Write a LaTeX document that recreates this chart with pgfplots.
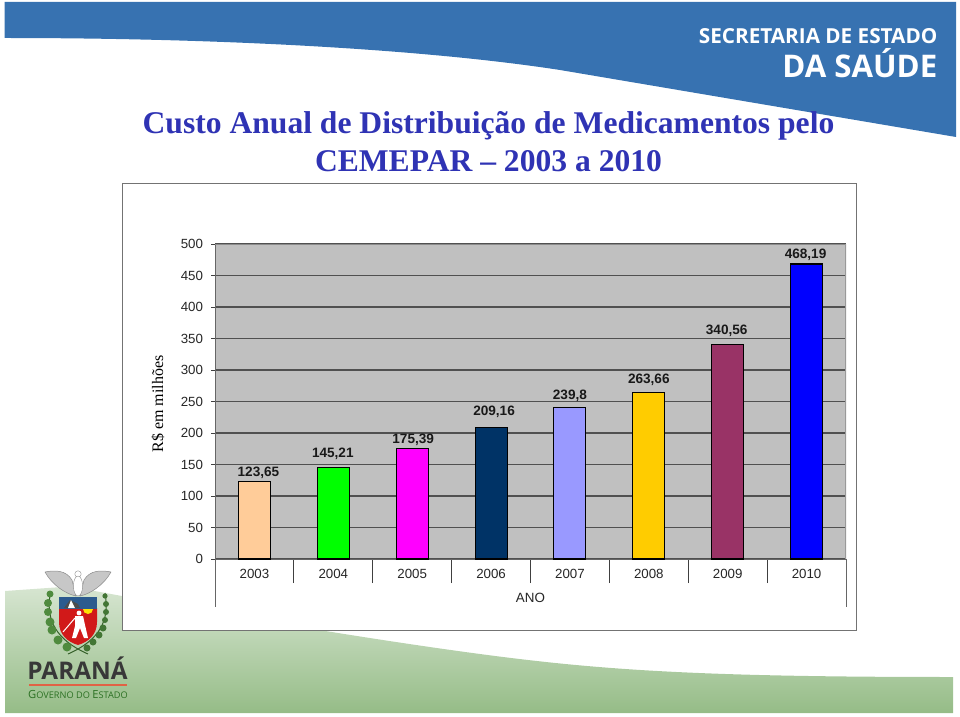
\documentclass[border=0pt]{standalone}
\usepackage{pgfplots}
\pgfplotsset{compat=1.18}
\usepackage{fontspec}
\setmainfont{Liberation Sans}
\newfontfamily\serifbold{Liberation Serif}
\newfontfamily\headfont{Open Sans}
\definecolor{bandblue}{HTML}{3772B1}
\definecolor{titleblue}{HTML}{2F33B4}
\definecolor{gridc}{HTML}{505050}
\definecolor{plotbg}{HTML}{C0C0C0}
\definecolor{leafg}{HTML}{4F8B3E}
\definecolor{footg}{HTML}{6CA258}
\definecolor{cA}{HTML}{FFCC99}
\definecolor{cB}{HTML}{00FF00}
\definecolor{cC}{HTML}{FF00FF}
\definecolor{cD}{HTML}{003366}
\definecolor{cE}{HTML}{9999FF}
\definecolor{cF}{HTML}{FFCC00}
\definecolor{cG}{HTML}{993366}
\definecolor{cH}{HTML}{0000FF}
\newcommand{\yearbar}[6]{%
  \addplot[ybar,bar width=32pt,bar shift=0pt,fill=#1,draw=black,line width=1.1pt,
    point meta=explicit symbolic,nodes near coords,
    nodes near coords align={center},
    every node near coord/.append style={anchor=center,xshift=#5pt,yshift=#6pt,
      font=\fontsize{13.6}{14}\selectfont\bfseries,text=black!90}]
    coordinates {(#2,#3) [#4]};}
\begin{document}
\begin{tikzpicture}[x=1pt,y=1pt]
\path[use as bounding box] (0,0) rectangle (960,716);
\begin{scope}[x=1pt,y=-1pt,yshift=716pt]
  % header band
  \fill[bandblue] (4.5,2) -- (956,2) -- (956,137) -- (560,70)
     .. controls (430,50) and (230,38) .. (4.5,38) -- cycle;
  % footer band
  \begin{scope}
    \clip (5,574) .. controls (60,585) and (300,630) .. (480,654)
       .. controls (600,670) and (700,677) .. (953,677) -- (953,713) -- (5,713) -- cycle;
    \shade[rotate around={4:(480,650)},top color=white,bottom color=footg] (-200,558) rectangle (1200,746);
  \end{scope}
  % chart frame
  \fill[white,draw=black!55,line width=1.2pt] (122.5,183.5) rectangle (856.5,630.5);
  % title
  \node[anchor=base,inner sep=0pt,font=\serifbold\bfseries\fontsize{31.6}{32}\selectfont,text=titleblue] at (488.5,134) {Custo Anual de Distribuição de Medicamentos pelo};
  \node[anchor=base,inner sep=0pt,font=\serifbold\bfseries\fontsize{31.6}{32}\selectfont,text=titleblue] at (488.5,172) {CEMEPAR – 2003 a 2010};
  % header text
  \node[anchor=base east,inner sep=0pt,font=\headfont\bfseries\fontsize{20.7}{21}\selectfont,text=white] at (937.5,44) {SECRETARIA DE ESTADO};
  \node[anchor=base east,inner sep=0pt,font=\headfont\bfseries\fontsize{31.2}{32}\selectfont,text=white] at (937.5,78) {DA SAÚDE};
  % emblem: laurel
  \draw[leafg!70!black,line width=1pt] (50,595) .. controls (46,620) and (56,640) .. (88,654);
  \draw[leafg!70!black,line width=1pt] (105,593) .. controls (110,620) and (100,640) .. (68,654);
  \foreach \p/\r in {(50,594)/3.5,(48,603)/4,(48,612)/4,(50,622)/4.5,(52,630)/4.5,(58,640)/4.5,(67,647)/4.5}
    \fill[leafg] \p circle (\r);
  \foreach \p/\r in {(105,596)/2.6,(106,604)/3,(106,612)/3,(105,620)/3,(103,628)/3.5,(99,635)/3.5,(93,642)/3.5,(87,648)/3.5}
    \fill[leafg!85!black] \p circle (\r);
  % emblem: shield
  \fill[red!80!black!90!white] (59,608) -- (97,608) -- (97,622) .. controls (97,635) and (88,642) .. (78,645)
     .. controls (68,642) and (59,635) .. (59,622) -- cycle;
  \fill[bandblue!80!black] (59,597) rectangle (97,609);
  \fill[black!70] (64,608) -- (70,600) -- (78,604) -- (80,608) -- cycle;
  \fill[white] (68,608) -- (71,600) -- (75,608) -- cycle;
  \fill[yellow!85!orange] (83,609) arc[start angle=180,end angle=0,radius=5] -- cycle;
  % emblem: figure
  \fill[white] (79,613) circle (2.4);
  \fill[white] (75,616) -- (83,616) -- (85,625) -- (88,638) -- (84,638) -- (80,628) -- (76,638) -- (72,638) -- (75,626) -- cycle;
  \draw[white,line width=1pt] (75,618) -- (69,625) -- (63,632);
  % emblem: eagle
  \fill[black!22,draw=black!45,line width=.5pt] (45,572) .. controls (55,570) and (66,570) .. (72,580) -- (76,596)
     .. controls (66,594) and (52,585) .. (45,572) -- cycle;
  \fill[black!22,draw=black!45,line width=.5pt] (111,572) .. controls (101,570) and (90,570) .. (84,580) -- (80,596)
     .. controls (90,594) and (104,585) .. (111,572) -- cycle;
  \fill[white,draw=black!45,line width=.4pt] (78,574) circle (3.2);
  \fill[white,draw=black!45,line width=.4pt] (78,586) ellipse (4.6 and 10);
  % emblem: text
  \node[anchor=base,inner sep=0pt,font=\headfont\bfseries\fontsize{24.3}{25}\selectfont,text=black!78] at (77.5,679) {PARANÁ};
  \fill[red!45!brown!85!white] (29,684.3) rectangle (127,686);
  \node[anchor=base,inner sep=0pt,font=\headfont\fontsize{9.2}{10}\selectfont,text=leafg!80!green!70!black] at (78,698) {{\fontsize{11.2}{11}\selectfont G}OVERNO DO {\fontsize{11.2}{11}\selectfont E}STADO};
  % long separators below the axis ends
  \fill[black!60] (214.5,559) rectangle (215.5,607);
  \fill[black!60] (845.5,559) rectangle (846.5,607);
\end{scope}
\begin{axis}[
  at={(215pt,157pt)},anchor=south west,
  scale only axis,width=631pt,height=315pt,
  xmin=0,xmax=8,ymin=0,ymax=500,
  axis background/.style={fill=plotbg},
  axis line style={black!60,line width=1pt},
  axis x line*=bottom,
  axis y line*=left,
  ytick={0,50,...,500},
  ymajorgrids,
  major grid style={gridc,line width=1.1pt},
  xtick={0.5,1.5,...,7.5},
  xticklabels={2003,2004,2005,2006,2007,2008,2009,2010},
  minor xtick={1,2,...,7},
  major x tick style={draw=none},
  minor x tick style={black!75,line width=1pt},
  minor tick length=24pt,
  tick align=outside,
  major tick length=4pt,
  y tick style={black!75,line width=1pt},
  /pgf/number format/assume math mode=true,
  tick label style={font=\fontsize{13.3}{14}\selectfont,text=black!85},
  xticklabel style={yshift=-3pt},
  yticklabel style={xshift=-4.5pt},
  xlabel={ANO},
  xlabel style={at={(axis description cs:0.5,0)},anchor=center,yshift=-39pt,font=\fontsize{13.4}{14}\selectfont,text=black!85},
  ylabel={R\$ em milhões},
  ylabel style={at={(axis description cs:-0.0903,0.492)},anchor=center,font=\serifbold\fontsize{16}{16}\selectfont},
]
\draw[black!45,line width=1.4pt] (axis cs:0,500) -- (axis cs:8,500);
\draw[black!40,line width=1.2pt] (axis cs:8,0) -- (axis cs:8,500);
\yearbar{cA}{0.5}{123.65}{123,65}{4}{8}
\yearbar{cB}{1.5}{145.21}{145,21}{-0.5}{13.5}
\yearbar{cC}{2.5}{175.39}{175,39}{1}{8.5}
\yearbar{cD}{3.5}{209.16}{209,16}{3}{15}
\yearbar{cE}{4.5}{239.8}{239,8}{0}{12}
\yearbar{cF}{5.5}{263.66}{263,66}{0}{13}
\yearbar{cG}{6.5}{340.56}{340,56}{-1}{13.5}
\yearbar{cH}{7.5}{468.19}{468,19}{-1}{9}
\end{axis}
\end{tikzpicture}
\end{document}
